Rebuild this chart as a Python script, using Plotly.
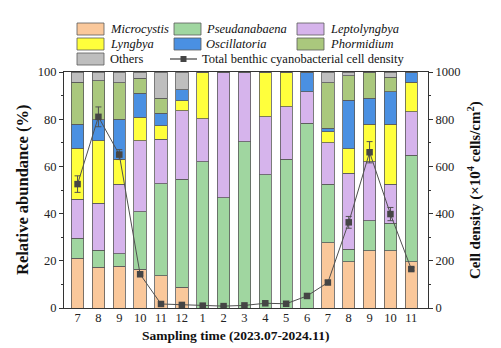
import plotly.graph_objects as go

# Sampling months, July 2023 to November 2024
months = ["7", "8", "9", "10", "11", "12", "1", "2", "3", "4", "5", "6",
          "7", "8", "9", "10", "11"]

# Relative abundance of each genus (%)
microcystis = [21.0, 17.2, 17.7, 16.4, 13.7, 8.8, 0, 0, 0, 0, 0, 0,
               27.7, 19.6, 24.3, 24.3, 19.6]
pseudanabaena = [8.5, 7.2, 5.2, 24.4, 39.0, 45.7, 62.0, 46.7, 70.5, 56.4, 63.0, 78.3,
                 24.7, 5.3, 12.6, 11.6, 45.2]
leptolyngbya = [16.5, 19.9, 29.5, 30.1, 18.8, 29.1, 18.1, 53.3, 29.5, 24.7, 22.3, 13.4,
                17.6, 32.2, 25.1, 16.5, 18.4]
lyngbya = [21.7, 26.6, 10.6, 9.9, 5.8, 4.2, 19.9, 0, 0, 18.9, 14.7, 0,
           4.7, 10.3, 15.8, 25.4, 12.4]
oscillatoria = [10.1, 8.8, 17.0, 10.2, 5.3, 4.6, 0, 0, 0, 0, 0, 8.3,
                1.4, 20.7, 11.1, 13.9, 4.4]
phormidium = [17.8, 16.5, 15.5, 6.3, 6.3, 0, 0, 0, 0, 0, 0, 0,
              19.4, 10.3, 11.1, 6.1, 0]
others = [4.4, 3.8, 4.5, 2.7, 11.1, 7.6, 0, 0, 0, 0, 0, 0,
          4.5, 1.6, 0, 2.2, 0]

# Total benthic cyanobacterial cell density (x10^4 cells/cm2) and its SD
cell_density = [525, 810, 650, 143, 17, 13, 10, 8, 11, 20, 18, 51,
                108, 363, 660, 398, 165]
density_sd = [35, 42, 21, 5, 3, 2, 1, 1, 1, 2, 2, 4, 8, 25, 45, 28, 6]

genera = [
    ("Microcystis", microcystis, "#FAC89B"),
    ("Pseudanabaena", pseudanabaena, "#A0D6A0"),
    ("Leptolyngbya", leptolyngbya, "#D6B4EC"),
    ("Lyngbya", lyngbya, "#FFFF3C"),
    ("Oscillatoria", oscillatoria, "#4A90E2"),
    ("Phormidium", phormidium, "#AAC87D"),
    ("Others", others, "#BEBEBE"),
]

FONT = "Times New Roman, Liberation Serif, DejaVu Serif, serif"
W, H = 501, 348
L, R, T, B = 64, 428, 72, 308

xpos = list(range(len(months)))

fig = go.Figure()
for name, vals, color in genera:
    fig.add_trace(go.Bar(
        x=xpos, y=vals, name=name, width=0.59,
        marker=dict(color=color, line=dict(color="#5a5a5a", width=0.8)),
        showlegend=False,
    ))

fig.add_trace(go.Scatter(
    x=xpos, y=cell_density, yaxis="y2", mode="lines+markers",
    name="Total benthic cyanobacterial cell density",
    line=dict(color="#505050", width=1),
    marker=dict(symbol="square", size=6.5, color="#454545"),
    error_y=dict(type="data", array=density_sd, color="#505050",
                 thickness=1, width=3),
    showlegend=False,
))


def px(x):
    return (x - L) / (R - L)


def py(y):
    return (B - y) / (B - T)


# Legend built from boxes and labels above the plot
shapes = []
annotations = []
legend_rows = [29, 44, 59]
legend_cols = [(77, 108), (174, 204), (297, 328)]
layout_slots = [(0, 0), (1, 0), (2, 0), (0, 1), (1, 1), (2, 1), (0, 2)]
for (name, _, color), (c, r) in zip(genera, layout_slots):
    bx, tx = legend_cols[c]
    yc = legend_rows[r]
    shapes.append(dict(type="rect", xref="paper", yref="paper",
                       x0=px(bx), x1=px(bx + 27), y0=py(yc + 6), y1=py(yc - 6),
                       fillcolor=color, line=dict(color="#5a5a5a", width=0.8)))
    label = name if name == "Others" else f"<i>{name}</i>"
    annotations.append(dict(text=label, xref="paper", yref="paper",
                            x=px(tx), y=py(yc), xanchor="left", yanchor="middle",
                            showarrow=False, font=dict(family=FONT, size=12.5, color="#111")))

# line entry of the legend
yl = legend_rows[2]
shapes.append(dict(type="line", xref="paper", yref="paper",
                   x0=px(170), x1=px(197), y0=py(yl), y1=py(yl),
                   line=dict(color="#404040", width=1.2)))
shapes.append(dict(type="rect", xref="paper", yref="paper",
                   x0=px(180.5), x1=px(186.5), y0=py(yl + 3), y1=py(yl - 3),
                   fillcolor="#454545", line=dict(color="#454545", width=0)))
annotations.append(dict(text="Total benthic cyanobacterial cell density",
                        xref="paper", yref="paper", x=px(200), y=py(yl),
                        xanchor="left", yanchor="middle", showarrow=False,
                        font=dict(family=FONT, size=12.5, color="#111")))

# axis titles
annotations.append(dict(text="<b>Relative abundance (%)</b>", xref="paper", yref="paper",
                        x=px(22), y=0.5, textangle=-90, showarrow=False,
                        xanchor="center", yanchor="middle",
                        font=dict(family=FONT, size=16.5, color="#111")))
annotations.append(dict(text="<b>Cell density (×10<sup>4</sup> cells/cm<sup>2</sup>)</b>",
                        xref="paper", yref="paper", x=px(474), y=0.5, textangle=-90,
                        showarrow=False, xanchor="center", yanchor="middle",
                        font=dict(family=FONT, size=15, color="#111")))
annotations.append(dict(text="<b>Sampling time (2023.07-2024.11)</b>", xref="paper",
                        yref="paper", x=px(236), y=py(335), showarrow=False,
                        xanchor="center", yanchor="middle",
                        font=dict(family=FONT, size=13.5, color="#111")))

tickfont = dict(family=FONT, size=12.5, color="#222")
fig.update_layout(
    width=W, height=H,
    margin=dict(l=L, r=W - R, t=T, b=H - B),
    paper_bgcolor="white", plot_bgcolor="white",
    barmode="stack", bargap=0.4,
    font=dict(family=FONT),
    xaxis=dict(range=[-0.65, 16.8], tickmode="array", tickvals=xpos, ticktext=months,
               showgrid=False, zeroline=False, showline=True, linecolor="#333",
               linewidth=1, mirror=True, ticks="", tickfont=tickfont,
               ticklabelstandoff=-2),
    yaxis=dict(range=[0, 100], tickmode="linear", dtick=20, showgrid=False,
               zeroline=False, showline=True, linecolor="#333", linewidth=1,
               ticks="outside", ticklen=4, tickcolor="#333", tickfont=tickfont,
               minor=dict(dtick=10, ticks="outside", ticklen=2, tickcolor="#333")),
    yaxis2=dict(range=[0, 1000], tickmode="linear", dtick=200, overlaying="y",
                side="right", showgrid=False, zeroline=False, showline=True,
                linecolor="#333", linewidth=1, ticks="outside", ticklen=4,
                tickcolor="#333", tickfont=tickfont,
                minor=dict(dtick=100, ticks="outside", ticklen=2, tickcolor="#333")),
    shapes=shapes,
    annotations=annotations,
)

fig.write_html("out.html")
